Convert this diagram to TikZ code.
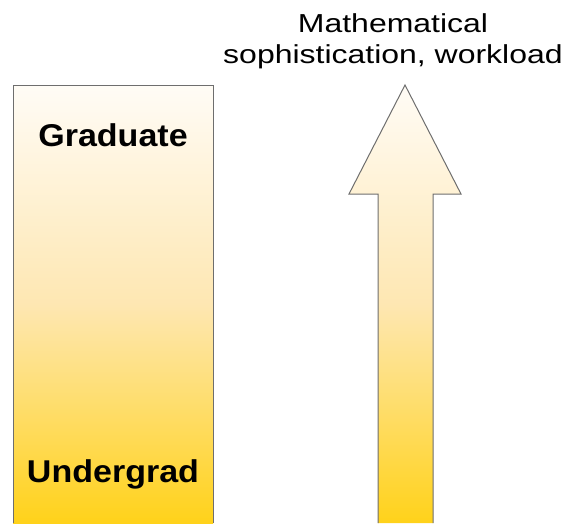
\documentclass[tikz,border=0pt]{standalone}
\usepackage{fontspec}
\setmainfont{Liberation Sans}
\newfontfamily\lblfont[FakeStretch=1.23]{Liberation Sans}
\newfontfamily\lvlfont[FakeStretch=1.08]{Liberation Sans Bold}
\usetikzlibrary{positioning}

\definecolor{goldbot}{RGB}{255,210,26}
\definecolor{goldmid}{RGB}{254,231,178}
\definecolor{paletop}{RGB}{255,252,246}
\definecolor{edgegray}{RGB}{110,110,110}

\begin{document}
\begin{tikzpicture}[
    x=1pt, y=-1pt,
    level/.style={font=\lvlfont\fontsize{31.5}{36}\selectfont, inner sep=0pt, anchor=base},
    axislbl/.style={font=\lblfont\fontsize{26}{31}\selectfont, align=center, inner sep=0pt},
    fade/.style={top color=paletop, bottom color=goldbot, middle color=goldmid, draw=none},
    outline/.style={draw=edgegray, line width=1pt}
]
\useasboundingbox (0,0) rectangle (567,523);

% level bar
\shade[fade] (13,85) rectangle (213,523);
\draw[outline] (13,523) -- (13,85) -- (213,85) -- (213,523);
\node[level] (grad) at (113,146) {Graduate};
\node[level] (ugrad) at (113,482) {Undergrad};

% big arrow
\coordinate (tip) at (405,85);
\shade[fade] (378,523) -- (378,194) -- (349,194) -- (tip) -- (461,194) -- (433,194) -- (433,523) -- cycle;
\draw[outline] (378,523) -- (378,194) -- (349,194) -- (tip) -- (461,194) -- (433,194) -- (433,523);
\node[axislbl, above=16pt of tip, xshift=-12pt] (metric) {Mathematical\\sophistication, workload};
\end{tikzpicture}
\end{document}
